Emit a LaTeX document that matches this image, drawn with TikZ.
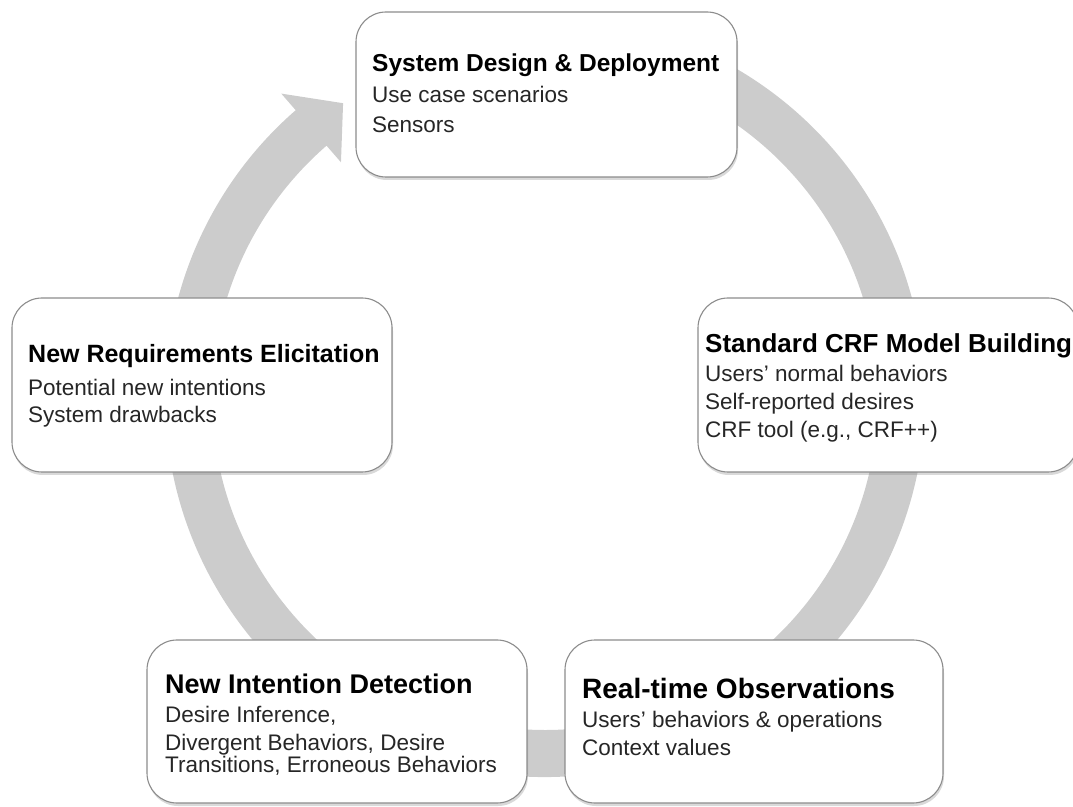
\documentclass[tikz,border=0pt]{standalone}
\usepackage{fontspec}
\setmainfont{Liberation Sans}
\usetikzlibrary{shadows}

\definecolor{ringgray}{RGB}{204,204,204}
\definecolor{edgegray}{RGB}{140,140,140}

\tikzset{
  stage/.style={draw=edgegray, line width=1.1pt, fill=white, rounded corners=30pt,
    inner sep=0pt, drop shadow={shadow xshift=1pt, shadow yshift=-3pt, opacity=0.3}},
  head/.style={anchor=base west, inner sep=0pt, font=\fontsize{#1}{#1}\selectfont\bfseries},
  item/.style={anchor=base west, inner sep=0pt, text=black!85,
    font=\fontsize{22.5}{27}\selectfont}
}

\begin{document}
\begin{tikzpicture}[x=1pt, y=1pt]
  \useasboundingbox (0,0) rectangle (1073,806);

  % the cycle arrow behind the boxes
  \begin{scope}[shift={(545,409)}]
    \fill[ringgray] (100:380) arc[start angle=100, end angle=-229, radius=380]
      -- (131:402) -- (124.5:356.5) -- (131:311) -- (131:333)
      arc[start angle=-229, end angle=100, radius=333] -- cycle;
  \end{scope}

  % boxes
  \node[stage, minimum width=381pt, minimum height=165pt] (design)  at (546.5,711.5) {};
  \node[stage, minimum width=380pt, minimum height=174pt] (elicit)  at (202,421) {};
  \node[stage, minimum width=380pt, minimum height=174pt] (crf)     at (888,421) {};
  \node[stage, minimum width=380pt, minimum height=163pt] (detect)  at (337,84.5) {};
  \node[stage, minimum width=378pt, minimum height=163pt] (observe) at (754,84.5) {};

  % System Design & Deployment
  \node[head=24.5] (designT) at (372,734) {System Design \& Deployment};
  \node[item] (designA) at (372,703) {Use case scenarios};
  \node[item] (designB) at (372,673) {Sensors};

  % New Requirements Elicitation
  \node[head=25] (elicitT) at (28,443) {New Requirements Elicitation};
  \node[item] (elicitA) at (28,410) {Potential new intentions};
  \node[item] (elicitB) at (28,383) {System drawbacks};

  % Standard CRF Model Building
  \node[head=26] (crfT) at (705,453) {Standard CRF Model Building};
  \node[item] (crfA) at (705,424) {Users' normal behaviors};
  \node[item] (crfB) at (705,396) {Self-reported desires};
  \node[item] (crfC) at (705,368) {CRF tool (e.g., CRF++)};

  % New Intention Detection
  \node[head=27] (detectT) at (165,113) {New Intention Detection};
  \node[item] (detectA) at (165,84) {Desire Inference,};
  \node[item] (detectB) at (165,56) {Divergent Behaviors, Desire};
  \node[item] (detectC) at (165,34) {Transitions, Erroneous Behaviors};

  % Real-time Observations
  \node[head=28] (observeT) at (582,108) {Real-time Observations};
  \node[item] (observeA) at (582,79) {Users' behaviors \& operations};
  \node[item] (observeB) at (582,51) {Context values};
\end{tikzpicture}
\end{document}
